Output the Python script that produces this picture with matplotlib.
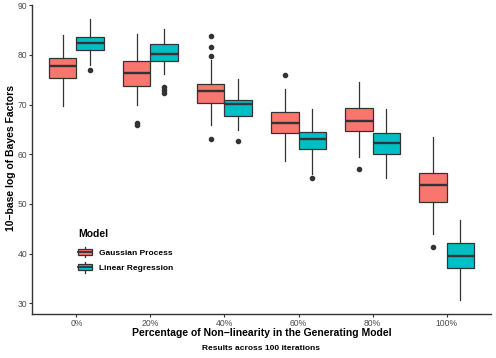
import matplotlib
matplotlib.use('Agg')
import matplotlib.pyplot as plt
import numpy as np
from matplotlib.legend_handler import HandlerBase
from matplotlib.patches import Rectangle, Patch
from matplotlib.lines import Line2D

plt.rcParams['font.family'] = ['Liberation Sans', 'DejaVu Sans']

# 数据：箱线图的五数概括 + 离群点
categories = ['0%', '20%', '40%', '60%', '80%', '100%']

gp_whislo = [69.7, 70.0, 65.8, 58.6, 59.5, 44.0]
gp_q1 = [75.35, 73.8, 70.4, 64.2, 64.7, 50.35]
gp_med = [77.76, 76.35, 72.66, 66.3, 66.7, 53.85]
gp_q3 = [79.45, 78.7, 74.2, 68.6, 69.3, 56.2]
gp_whishi = [84.0, 84.1, 78.9, 73.1, 74.5, 63.5]
gp_fliers = [[], [66.3, 65.8], [83.75, 81.6, 79.8, 63.05], [75.9], [57.1], [41.3]]

lr_whislo = [77.9, 76.1, 64.8, 56.1, 55.2, 30.7]
lr_q1 = [81.0, 78.8, 67.75, 61.0, 60.1, 37.2]
lr_med = [82.3, 80.2, 70.1, 63.0, 62.3, 39.6]
lr_q3 = [83.55, 82.1, 70.9, 64.5, 64.3, 42.2]
lr_whishi = [87.2, 85.3, 75.2, 69.2, 69.2, 46.8]
lr_fliers = [[77.0], [73.5, 73.0, 72.4], [62.7], [55.3], [], []]

gp_color = '#F8766D'
lr_color = '#00BFC4'
edge = '#333333'


def make_stats(lo, q1, med, q3, hi, fl):
    return [dict(whislo=a, q1=b, med=c, q3=d, whishi=e, fliers=f)
            for a, b, c, d, e, f in zip(lo, q1, med, q3, hi, fl)]


fig = plt.figure(figsize=(4.96, 3.58), dpi=100)
ax = fig.add_axes([32 / 496, 1 - 314 / 358, 459 / 496, 309 / 358])

x = np.arange(len(categories))
for stats, pos, col in [
        (make_stats(gp_whislo, gp_q1, gp_med, gp_q3, gp_whishi, gp_fliers), x - 0.1875, gp_color),
        (make_stats(lr_whislo, lr_q1, lr_med, lr_q3, lr_whishi, lr_fliers), x + 0.1875, lr_color)]:
    ax.bxp(stats, positions=pos, widths=0.375, patch_artist=True, showcaps=False,
           boxprops=dict(facecolor=col, edgecolor=edge, linewidth=0.9),
           medianprops=dict(color=edge, linewidth=1.7),
           whiskerprops=dict(color=edge, linewidth=0.9),
           flierprops=dict(marker='o', markerfacecolor=edge, markeredgecolor=edge,
                           markersize=3, linestyle='none'))

ax.set_xlim(-0.6, 5.6)
ax.set_ylim(27.87, 90.03)
ax.set_xticks(x)
ax.set_xticklabels(categories)
ax.set_yticks([30, 40, 50, 60, 70, 80, 90])
for s in ['top', 'right']:
    ax.spines[s].set_visible(False)
for s in ['left', 'bottom']:
    ax.spines[s].set_color(edge)
    ax.spines[s].set_linewidth(1.0)
ax.tick_params(length=2.2, width=0.8, color=edge, labelsize=6.2, labelcolor='#4D4D4D', pad=1.2)

fig.text(11 / 496, 1 - 158.5 / 358, '10\u2212base log of Bayes Factors', rotation=90,
         ha='center', va='center', fontsize=7.5, fontweight='bold')
fig.text(261.5 / 496, 1 - 333 / 358, 'Percentage of Non\u2212linearity in the Generating Model',
         ha='center', va='center', fontsize=7.5, fontweight='bold')
fig.text(261.5 / 496, 1 - 348 / 358, 'Results across 100 iterations',
         ha='center', va='center', fontsize=6, fontweight='bold')


# 图例中的箱线图小图标
class BoxHandler(HandlerBase):
    def create_artists(self, legend, orig_handle, xdescent, ydescent, width, height, fontsize, trans):
        x0, y0 = -xdescent, -ydescent
        cx = x0 + width / 2
        vline = Line2D([cx, cx], [y0 - height * 0.1, y0 + height * 1.1], color=edge, lw=0.9, transform=trans)
        rect = Rectangle((x0, y0 + height * 0.15), width, height * 0.7, facecolor=orig_handle.get_facecolor(),
                         edgecolor=edge, lw=0.9, transform=trans)
        mline = Line2D([x0, x0 + width], [y0 + height / 2] * 2, color=edge, lw=1.3, transform=trans)
        return [vline, rect, mline]


handles = [Patch(facecolor=gp_color), Patch(facecolor=lr_color)]
leg = ax.legend(handles, ['Gaussian Process', 'Linear Regression'], title='Model',
                handler_map={Patch: BoxHandler()}, loc='upper left',
                bbox_to_anchor=(0.092, 0.288), frameon=False, borderpad=0,
                handlelength=1.6, handleheight=1.3, handletextpad=0.85, labelspacing=0.7,
                alignment='left', prop=dict(size=6, weight='bold'),
                title_fontproperties=dict(size=7.5, weight='bold'))
leg._legend_box.sep = 6.0  # 标题与条目之间的间距

fig.savefig('out.png', dpi=100)
